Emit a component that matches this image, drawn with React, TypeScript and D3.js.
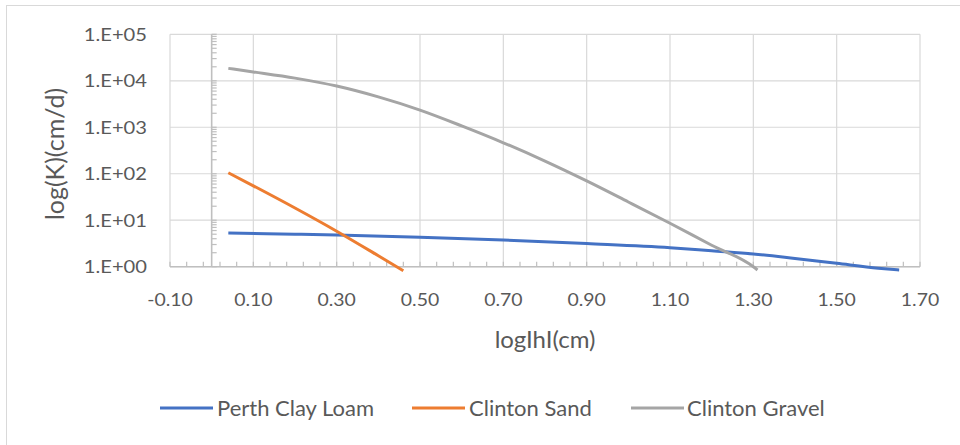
import React from "react";
import * as d3 from "d3";

// values (x = log|h| in cm, K in cm/d)
const perthX = [0.04, 0.2, 0.3, 0.5, 0.7, 0.9, 1.1, 1.2, 1.3, 1.4, 1.5, 1.6, 1.65];
const perthK = [5.3, 5.0, 4.8, 4.3, 3.75, 3.15, 2.57, 2.2, 1.88, 1.5, 1.18, 0.93, 0.85];

const sandX = [0.04, 0.1, 0.2, 0.3, 0.4, 0.46];
const sandK = [105, 55, 18.3, 5.8, 1.72, 0.82];

const gravelX = [0.04, 0.1, 0.2, 0.3, 0.4, 0.5, 0.6, 0.7, 0.8, 0.9, 1.0, 1.1, 1.2, 1.3, 1.31];
const gravelK = [18500, 15500, 11400, 7700, 4500, 2340, 1070, 464, 187, 70, 24.7, 8.6, 2.9, 1.0, 0.85];

const seriesNames = ["Perth Clay Loam", "Clinton Sand", "Clinton Gravel"];
const seriesColors = ["#4472C4", "#ED7D31", "#A5A5A5"];

const xTicks = [-0.1, 0.1, 0.3, 0.5, 0.7, 0.9, 1.1, 1.3, 1.5, 1.7];
const yTicks = [1, 10, 100, 1000, 10000, 100000];
const yTickLabels = ["1.E+00", "1.E+01", "1.E+02", "1.E+03", "1.E+04", "1.E+05"];

const W = 960;
const H = 445;
const plot = { left: 170, right: 920, top: 34.3, bottom: 266.7 };
const font = "Lato, 'Open Sans', sans-serif";
const textColor = "#595959";

export default function App() {
  const x = d3.scaleLinear().domain([-0.1, 1.7]).range([plot.left, plot.right]);
  const y = d3.scaleLog().domain([1, 100000]).range([plot.bottom, plot.top]);

  const line = d3
    .line<[number, number]>()
    .x(d => x(d[0]))
    .y(d => y(d[1]))
    .curve(d3.curveMonotoneX);

  const series = [
    d3.zip(perthX, perthK) as [number, number][],
    d3.zip(sandX, sandK) as [number, number][],
    d3.zip(gravelX, gravelK) as [number, number][]
  ];

  // minor ticks: every 0.04 on x, 2..9 per decade on y
  const xMinor = d3.range(0, 46).map(i => -0.1 + i * 0.04).filter(v => v <= 1.7001);
  const yMinor: number[] = [];
  for (let e = 0; e < 5; e++) for (let m = 2; m <= 9; m++) yMinor.push(m * Math.pow(10, e));

  const x0 = x(0);
  const legendItems = [
    { lx: 160, tx: 217 },
    { lx: 412, tx: 469 },
    { lx: 631, tx: 687 }
  ];

  return (
    <svg
      width={W}
      height={H}
      style={{ position: "absolute", left: 0, top: 0, background: "#fff" }}
      fontFamily={font}
    >
      <rect x={6.5} y={5.5} width={1200} height={1200} fill="#fff" stroke="#d9d9d9" />

      {/* gridlines */}
      {xTicks.map(t => (
        <line key={"gx" + t} x1={x(t)} x2={x(t)} y1={plot.top} y2={plot.bottom} stroke="#d9d9d9" strokeWidth={1.2} />
      ))}
      {yTicks.map(t => (
        <line key={"gy" + t} x1={plot.left} x2={plot.right} y1={y(t)} y2={y(t)} stroke="#d9d9d9" strokeWidth={1.2} />
      ))}

      {/* x axis at K = 1 */}
      <line x1={plot.left} x2={plot.right} y1={plot.bottom} y2={plot.bottom} stroke="#bfbfbf" strokeWidth={1.6} />
      {xMinor.map((t, i) => (
        <line key={"mx" + i} x1={x(t)} x2={x(t)} y1={plot.bottom} y2={plot.bottom - 5} stroke="#bfbfbf" strokeWidth={1.2} />
      ))}

      {/* y axis at x = 0 */}
      <line x1={x0} x2={x0} y1={plot.top} y2={plot.bottom} stroke="#bfbfbf" strokeWidth={1.6} />
      {yMinor.map((t, i) => (
        <line key={"my" + i} x1={x0} x2={x0 + 5} y1={y(t)} y2={y(t)} stroke="#bfbfbf" strokeWidth={1.2} />
      ))}
      {yTicks.map(t => (
        <line key={"My" + t} x1={x0} x2={x0 + 5} y1={y(t)} y2={y(t)} stroke="#bfbfbf" strokeWidth={1.2} />
      ))}

      {/* series */}
      {series.map((s, i) => (
        <path key={seriesNames[i]} d={line(s) || ""} fill="none" stroke={seriesColors[i]} strokeWidth={3} />
      ))}

      {/* tick labels */}
      {yTicks.map((t, i) => (
        <text
          key={"ly" + t}
          transform={`translate(147,${y(t) + 6.5}) scale(1.12,1)`}
          textAnchor="end"
          fontSize={18}
          fill={textColor}
        >
          {yTickLabels[i]}
        </text>
      ))}
      {xTicks.map(t => (
        <text
          key={"lx" + t}
          transform={`translate(${x(t)},306) scale(1.08,1)`}
          textAnchor="middle"
          fontSize={18}
          fill={textColor}
        >
          {t.toFixed(2)}
        </text>
      ))}

      {/* axis titles */}
      <text x={545} y={348} textAnchor="middle" fontSize={24} fill={textColor}>
        logIhI(cm)
      </text>
      <text
        transform={`translate(64,154) rotate(-90)`}
        textAnchor="middle"
        fontSize={25}
        fill={textColor}
      >
        log(K)(cm/d)
      </text>

      {/* legend */}
      {legendItems.map((l, i) => (
        <g key={"leg" + i}>
          <line x1={l.lx} x2={l.lx + 53} y1={408} y2={408} stroke={seriesColors[i]} strokeWidth={3} />
          <text x={l.tx} y={416} fontSize={22} fill={textColor}>
            {seriesNames[i]}
          </text>
        </g>
      ))}
    </svg>
  );
}
